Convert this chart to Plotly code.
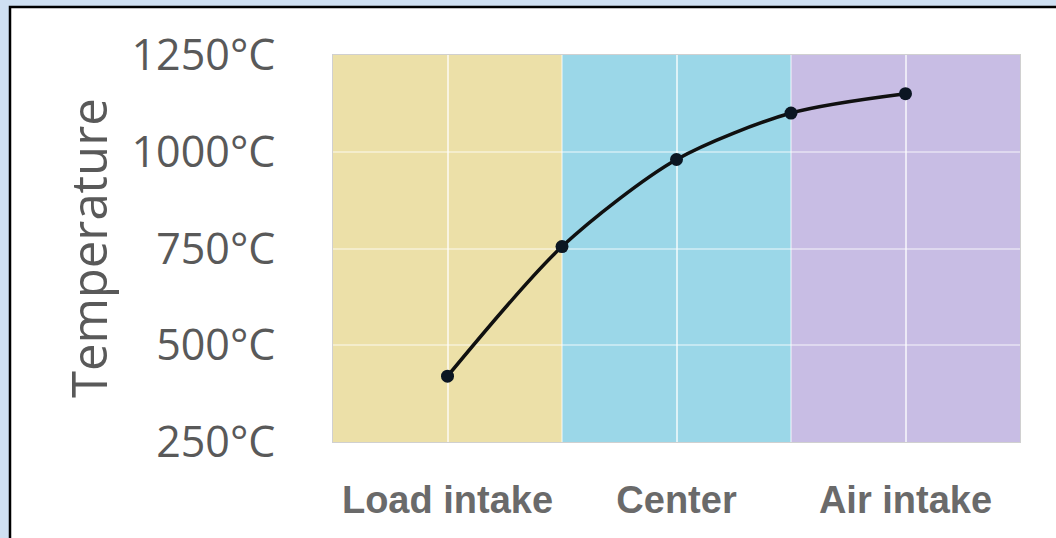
import plotly.graph_objects as go

# ---- data ----
positions = [1, 2, 3, 4, 5]
temperatures = [420, 755, 980, 1100, 1150]
category_positions = [1, 3, 5]
category_labels = ["Load intake", "Center", "Air intake"]
zone_starts = [0, 2, 4]
zone_ends = [2, 4, 6]
zone_colors = ["#ECE0A8", "#9BD7E8", "#C8BDE4"]
y_ticks = [250, 500, 750, 1000, 1250]
y_tick_labels = ["250°C", "500°C", "750°C", "1000°C", "1250°C"]

W, H = 1056, 538
ML, MR, MT, MB = 333, 36, 55, 96
PW, PH = W - ML - MR, H - MT - MB


def px(x):
    return (x - ML) / PW


def py(y):
    return (H - MB - y) / PH


fig = go.Figure()
fig.add_trace(go.Scatter(
    x=positions, y=temperatures, mode="lines+markers",
    line=dict(color="#101010", width=3.5, shape="spline", smoothing=0.8),
    marker=dict(color="#0b1622", size=13),
    showlegend=False, hoverinfo="skip",
))

shapes = [
    # white panel with black frame
    dict(type="rect", xref="paper", yref="paper", x0=px(10), x1=px(1070),
         y0=py(550), y1=py(7), fillcolor="white",
         line=dict(color="black", width=2.5), layer="below"),
]
for s, e, c in zip(zone_starts, zone_ends, zone_colors):
    shapes.append(dict(type="rect", xref="x", yref="paper", x0=s, x1=e,
                       y0=0, y1=1, fillcolor=c, line=dict(width=0), layer="below"))

grid_color = "rgba(255,255,255,0.42)"

fig.update_layout(
    width=W, height=H,
    margin=dict(l=ML, r=MR, t=MT, b=MB),
    paper_bgcolor="#cfe0f2",
    plot_bgcolor="rgba(0,0,0,0)",
    shapes=shapes,
    annotations=[dict(
        text="Temperature", xref="paper", yref="paper",
        x=px(88), y=py(248), xanchor="center", yanchor="middle",
        textangle=-90, showarrow=False,
        font=dict(family="Open Sans", size=49, color="#595959"),
    )],
)
fig.update_xaxes(
    range=[0, 6], tickvals=category_positions, ticktext=category_labels,
    showgrid=True, gridcolor=grid_color, gridwidth=2,
    minor=dict(dtick=1, tick0=0, showgrid=True,
               gridcolor=grid_color, gridwidth=2),
    zeroline=False, ticks="", ticklabelstandoff=24,
    showline=True, mirror=True, linecolor="rgba(120,120,120,0.35)", linewidth=1,
    tickfont=dict(family="Liberation Sans", size=38, color="#6a6a6a", weight="bold"),
)
fig.update_yaxes(
    range=[250, 1250], tickvals=y_ticks, ticktext=y_tick_labels,
    showgrid=True, gridcolor=grid_color, gridwidth=2,
    zeroline=False, ticks="", ticklabelstandoff=48,
    showline=True, mirror=True, linecolor="rgba(120,120,120,0.35)", linewidth=1,
    tickfont=dict(family="Open Sans", size=43, color="#595959"),
)

fig.write_html("out.html", config={"displayModeBar": False},
               post_script="document.body.style.margin='0';")
